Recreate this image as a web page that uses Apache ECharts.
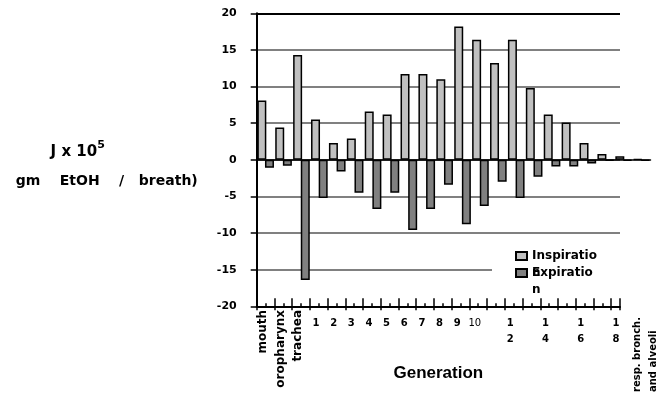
<!DOCTYPE html>
<html>
<head>
<meta charset="utf-8">
<script src="https://cdn.jsdelivr.net/npm/echarts@6/dist/echarts.min.js"></script>
<style>
  html, body { margin: 0; padding: 0; background: #fff; }
  #chart { width: 670px; height: 395px; }
</style>
</head>
<body>
<div id="chart"></div>
<script>
// ---- data ----
const categories = ['mouth', 'oropharynx', 'trachea', '1', '2', '3', '4', '5', '6', '7', '8', '9', '10',
  '11', '12', '13', '14', '15', '16', '17', '18', 'resp. bronch. and alveoli'];
const inspiration = [8.1, 4.4, 14.3, 5.5, 2.3, 2.9, 6.6, 6.2, 11.7, 11.7, 11.0, 18.2, 16.4, 13.2, 16.4, 9.8, 6.2, 5.1, 2.3, 0.8, 0.5, 0.1];
const expiration = [-1.1, -0.8, -16.4, -5.2, -1.6, -4.5, -6.7, -4.5, -9.6, -6.7, -3.4, -8.8, -6.3, -3.0, -5.2, -2.3, -0.9, -0.9, -0.5, -0.1, -0.1, -0.1];
const xTickLabels = ['mouth', 'oropharynx', 'trachea', '1', '2', '3', '4', '5', '6', '7', '8', '9', '10',
  '', '1\n2', '', '1\n4', '', '1\n6', '', '1\n8', 'resp. bronch.\nand alveoli'];
const rotatedLabelIdx = [0, 1, 2, 21];
const yMin = -20, yMax = 20, yStep = 5;
const seriesNames = ['Inspiration', 'Expiration'];

const F = 'DejaVu Sans';
const chart = echarts.init(document.getElementById('chart'), null, { renderer: 'canvas' });

const lastIdx = categories.length - 1;
const rotatedAxisData = categories.map((c, i) =>
  i === lastIdx ? { value: c, textStyle: { padding: [24, 7, 0, 0] } } : c);

const gridTop = 13.3, gridH = 293;
const option = {
  animation: false,
  backgroundColor: '#fff',
  grid: [
    { left: 256.7, top: gridTop, width: 363.3, height: gridH },          // frame, ticks, split lines
    { left: 256.7, top: gridTop, width: 22 * 17.9, height: gridH },      // bars
    { left: 254.2, top: gridTop, width: 22 * 17.65, height: gridH }      // category labels
  ],
  legend: {
    data: seriesNames,
    orient: 'vertical',
    left: 492, top: 243.5,
    padding: [4, 30, 0, 23],
    backgroundColor: '#fff',
    itemGap: -17,
    itemWidth: 11, itemHeight: 25,
    icon: 'path://M0,0H11V8H0ZM0,25',
    formatter: n => n.slice(0, -1) + '\n' + n.slice(-1),
    textStyle: { fontFamily: F, fontWeight: 'bold', fontSize: 12, color: '#000', lineHeight: 17 }
  },
  xAxis: [
    { // 0: bottom axis with crossing ticks (inside part) + name
      gridIndex: 0, type: 'value', min: 0, max: 20.5, interval: 1, position: 'bottom', z: 6,
      axisLine: { onZero: false, lineStyle: { color: '#000', width: 2 } },
      axisTick: { show: true, inside: true, length: 8, lineStyle: { color: '#000', width: 1.5 } },
      minorTick: { show: true, splitNumber: 2, length: 3, lineStyle: { color: '#000', width: 1.5 } },
      axisLabel: { show: false }, splitLine: { show: false },
      name: 'Generation', nameLocation: 'middle', nameGap: 67,
      nameTextStyle: { fontFamily: 'Liberation Sans', fontWeight: 'bold', fontSize: 17, color: '#000', verticalAlign: 'middle' }
    },
    { // 1: bar category axis (zero line)
      gridIndex: 1, type: 'category', data: categories,
      axisLine: { onZero: true, lineStyle: { color: '#000', width: 1.5 } },
      axisTick: { show: false }, axisLabel: { show: false }
    },
    { // 2: rotated text labels
      gridIndex: 2, type: 'category', data: rotatedAxisData, position: 'bottom', offset: 0,
      axisLine: { show: false, onZero: false }, axisTick: { show: false },
      axisLabel: {
        interval: 0, rotate: 90, margin: 4,
        fontFamily: F, fontWeight: 'bold', fontSize: 12, color: '#000',
        formatter: (v, i) => rotatedLabelIdx.includes(i)
          ? (i === lastIdx ? xTickLabels[i].split('\n').map(s => '{r|' + s + '}').join('\n') : xTickLabels[i]) : '',
        rich: { r: { fontFamily: F, fontWeight: 'bold', fontSize: 10, color: '#000', align: 'left', lineHeight: 16 } }
      }
    },
    { // 3: numeric generation labels
      gridIndex: 2, type: 'category', data: categories, position: 'bottom', offset: 0,
      axisLine: { show: false, onZero: false }, axisTick: { show: false },
      axisLabel: {
        interval: 0, margin: 9, lineHeight: 16,
        fontFamily: F, fontWeight: 'bold', fontSize: 10, color: '#000',
        formatter: (v, i) => rotatedLabelIdx.includes(i) ? '' : (xTickLabels[i] === '10' ? '{n|10}' : xTickLabels[i]),
        rich: { n: { fontFamily: F, fontWeight: 'normal', fontSize: 10, color: '#000' } }
      }
    },
    { // 4: outside part of the crossing ticks
      gridIndex: 0, type: 'value', min: 0, max: 20.5, interval: 1, position: 'bottom', offset: 0, z: 6,
      axisLine: { show: false, onZero: false },
      axisTick: { show: true, inside: false, length: 4, lineStyle: { color: '#000', width: 1.5 } },
      axisLabel: { show: false }, splitLine: { show: false }
    }
  ],
  yAxis: [
    {
      gridIndex: 0, type: 'value', min: yMin, max: yMax, interval: yStep,
      axisLine: { show: true, onZero: false, lineStyle: { color: '#000', width: 2 } },
      axisTick: { show: true, inside: false, length: 6, lineStyle: { color: '#000', width: 1.5 } },
      axisLabel: { margin: 20, fontFamily: F, fontWeight: 'bold', fontSize: 11, color: '#000' },
      splitLine: { show: true, lineStyle: { width: 2, color: ['#000', '#808080', '#808080', '#808080', '#808080', '#808080', '#808080', '#808080', '#000'] } },
      name: '{a|J x 10}{s|5}\n{b|gm    EtOH    /   breath)}',
      nameLocation: 'middle', nameRotate: 0, nameGap: 150,
      nameTextStyle: {
        align: 'center', verticalAlign: 'middle', padding: [14, 0, 0, 0],
        rich: {
          a: { fontFamily: F, fontWeight: 'bold', fontSize: 15, color: '#000', lineHeight: 30 },
          s: { fontFamily: F, fontWeight: 'bold', fontSize: 11, color: '#000', verticalAlign: 'top', padding: [3, 58, 0, 0] },
          b: { fontFamily: F, fontWeight: 'bold', fontSize: 14, color: '#000', lineHeight: 30 }
        }
      }
    },
    { gridIndex: 1, type: 'value', min: yMin, max: yMax, interval: yStep, show: false },
    { gridIndex: 2, type: 'value', min: yMin, max: yMax, interval: yStep, show: false }
  ],
  series: [
    {
      name: seriesNames[0], type: 'bar', xAxisIndex: 1, yAxisIndex: 1, data: inspiration,
      barWidth: 9, barGap: '-15%',
      itemStyle: { color: '#c0c0c0', borderColor: '#000', borderWidth: 1.5 }
    },
    {
      name: seriesNames[1], type: 'bar', xAxisIndex: 1, yAxisIndex: 1, data: expiration,
      barWidth: 9, barGap: '-15%',
      itemStyle: { color: '#808080', borderColor: '#000', borderWidth: 1.5 }
    }
  ]
};
chart.setOption(option);
</script>
</body>
</html>
